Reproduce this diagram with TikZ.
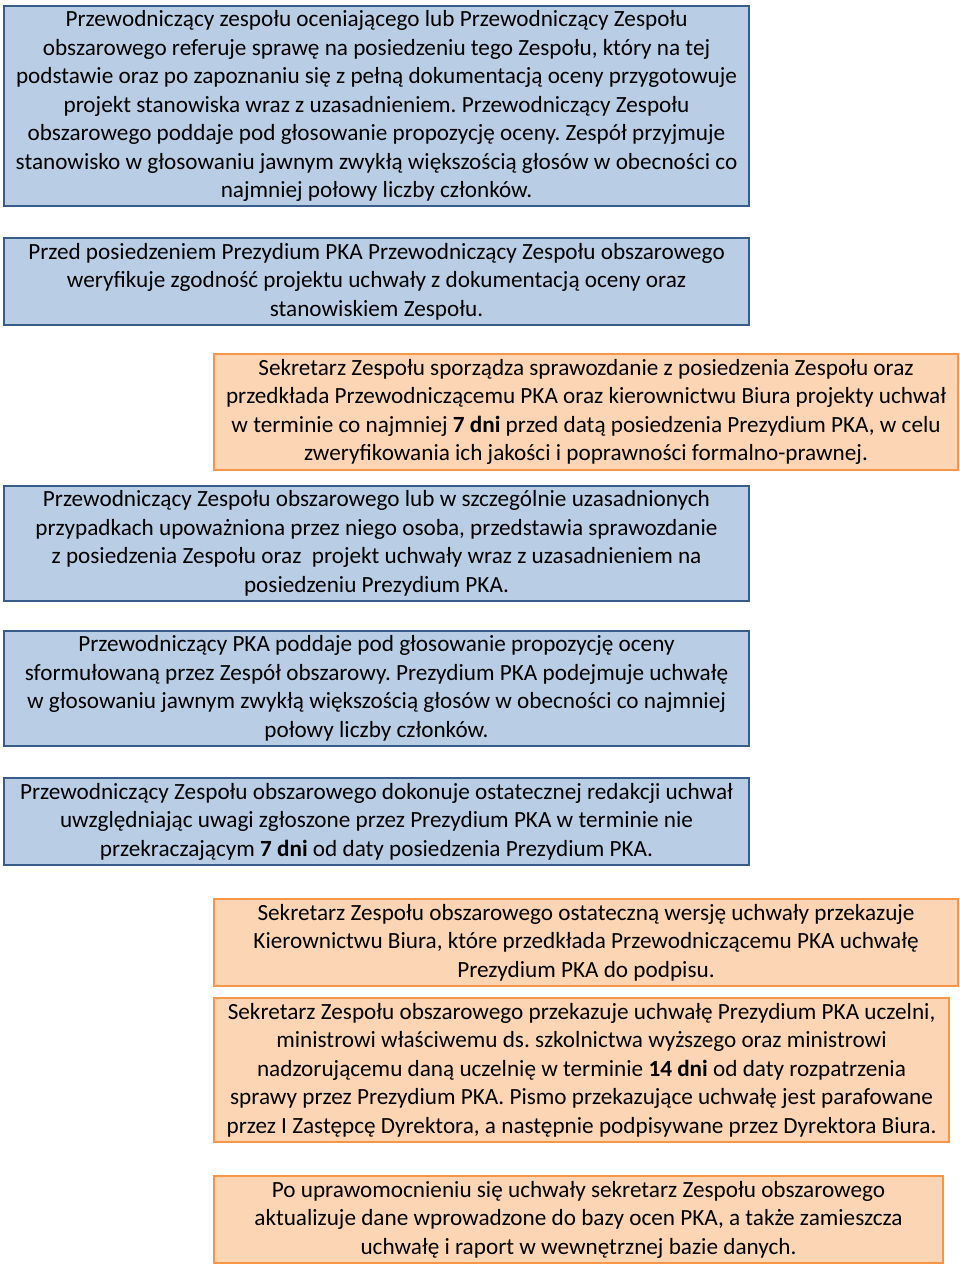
\documentclass[tikz,border=0pt]{standalone}
\usepackage{fontspec}
\setmainfont{Carlito}
\usepackage{xcolor}
\usetikzlibrary{positioning}

\definecolor{bluefill}{HTML}{B9CDE5}
\definecolor{blueline}{HTML}{385D8A}
\definecolor{orangefill}{HTML}{FCD5B5}
\definecolor{orangeline}{HTML}{F79646}

\begin{document}
\frenchspacing
\begin{tikzpicture}[
    x=1pt, y=1pt,
    every node/.style={font=\fontsize{23.2}{28.5}\selectfont, align=center, anchor=north west, inner sep=0pt},
    bluebox/.style={rectangle, draw=blueline, line width=2pt, fill=bluefill, minimum width=745pt},
    orangebox/.style={rectangle, draw=orangeline, line width=2pt, fill=orangefill, minimum width=744pt}
]
\useasboundingbox (0,0) rectangle (960,-1266);

% Blue steps (left column)
\node[bluebox, minimum height=200pt] at (3,-5) (report) {Przewodniczący zespołu oceniającego lub Przewodniczący Zespołu\\obszarowego referuje sprawę na posiedzeniu tego Zespołu, który na tej\\podstawie oraz po zapoznaniu się z pełną dokumentacją oceny przygotowuje\\projekt stanowiska wraz z uzasadnieniem. Przewodniczący Zespołu\\obszarowego poddaje pod głosowanie propozycję oceny. Zespół przyjmuje\\stanowisko w głosowaniu jawnym zwykłą większością głosów w obecności co\\najmniej połowy liczby członków.};
\node[bluebox, minimum height=87pt] at (3,-237) (verify) {Przed posiedzeniem Prezydium PKA Przewodniczący Zespołu obszarowego\\weryfikuje zgodność projektu uchwały z dokumentacją oceny oraz\\stanowiskiem Zespołu.};

% Orange step (right column)
\node[orangebox, minimum height=116pt] at (213,-353) (minutes) {Sekretarz Zespołu sporządza sprawozdanie z posiedzenia Zespołu oraz\\przedkłada Przewodniczącemu PKA oraz kierownictwu Biura projekty uchwał\\w terminie co najmniej \textbf{7 dni} przed datą posiedzenia Prezydium PKA, w celu\\zweryfikowania ich jakości i poprawności formalno-prawnej.};

% Blue steps
\node[bluebox, minimum height=115pt] at (3,-485) (present) {Przewodniczący Zespołu obszarowego lub w szczególnie uzasadnionych\\przypadkach upoważniona przez niego osoba, przedstawia sprawozdanie\\z posiedzenia Zespołu oraz\ \ projekt uchwały wraz z uzasadnieniem na\\posiedzeniu Prezydium PKA.};
\node[bluebox, minimum height=115pt] at (3,-630) (vote) {Przewodniczący PKA poddaje pod głosowanie propozycję oceny\\sformułowaną przez Zespół obszarowy. Prezydium PKA podejmuje uchwałę\\w głosowaniu jawnym zwykłą większością głosów w obecności co najmniej\\połowy liczby członków.};
\node[bluebox, minimum height=87pt] at (3,-777) (edit) {Przewodniczący Zespołu obszarowego dokonuje ostatecznej redakcji uchwał\\uwzględniając uwagi zgłoszone przez Prezydium PKA w terminie nie\\przekraczającym \textbf{7 dni} od daty posiedzenia Prezydium PKA.};

% Orange steps
\node[orangebox, minimum height=87pt] at (213,-898) (sign) {Sekretarz Zespołu obszarowego ostateczną wersję uchwały przekazuje\\Kierownictwu Biura, które przedkłada Przewodniczącemu PKA uchwałę\\Prezydium PKA do podpisu.};
\node[orangebox, minimum width=735pt, minimum height=144pt] at (213,-997) (send) {Sekretarz Zespołu obszarowego przekazuje uchwałę Prezydium PKA uczelni,\\ministrowi właściwemu ds. szkolnictwa wyższego oraz ministrowi\\nadzorującemu daną uczelnię w terminie \textbf{14 dni} od daty rozpatrzenia\\sprawy przez Prezydium PKA. Pismo przekazujące uchwałę jest parafowane\\przez I Zastępcę Dyrektora, a następnie podpisywane przez Dyrektora Biura.};
\node[orangebox, minimum width=729pt, minimum height=87pt] at (213,-1175) (update) {Po uprawomocnieniu się uchwały sekretarz Zespołu obszarowego\\aktualizuje dane wprowadzone do bazy ocen PKA, a także zamieszcza\\uchwałę i raport w wewnętrznej bazie danych.};

\end{tikzpicture}
\end{document}
